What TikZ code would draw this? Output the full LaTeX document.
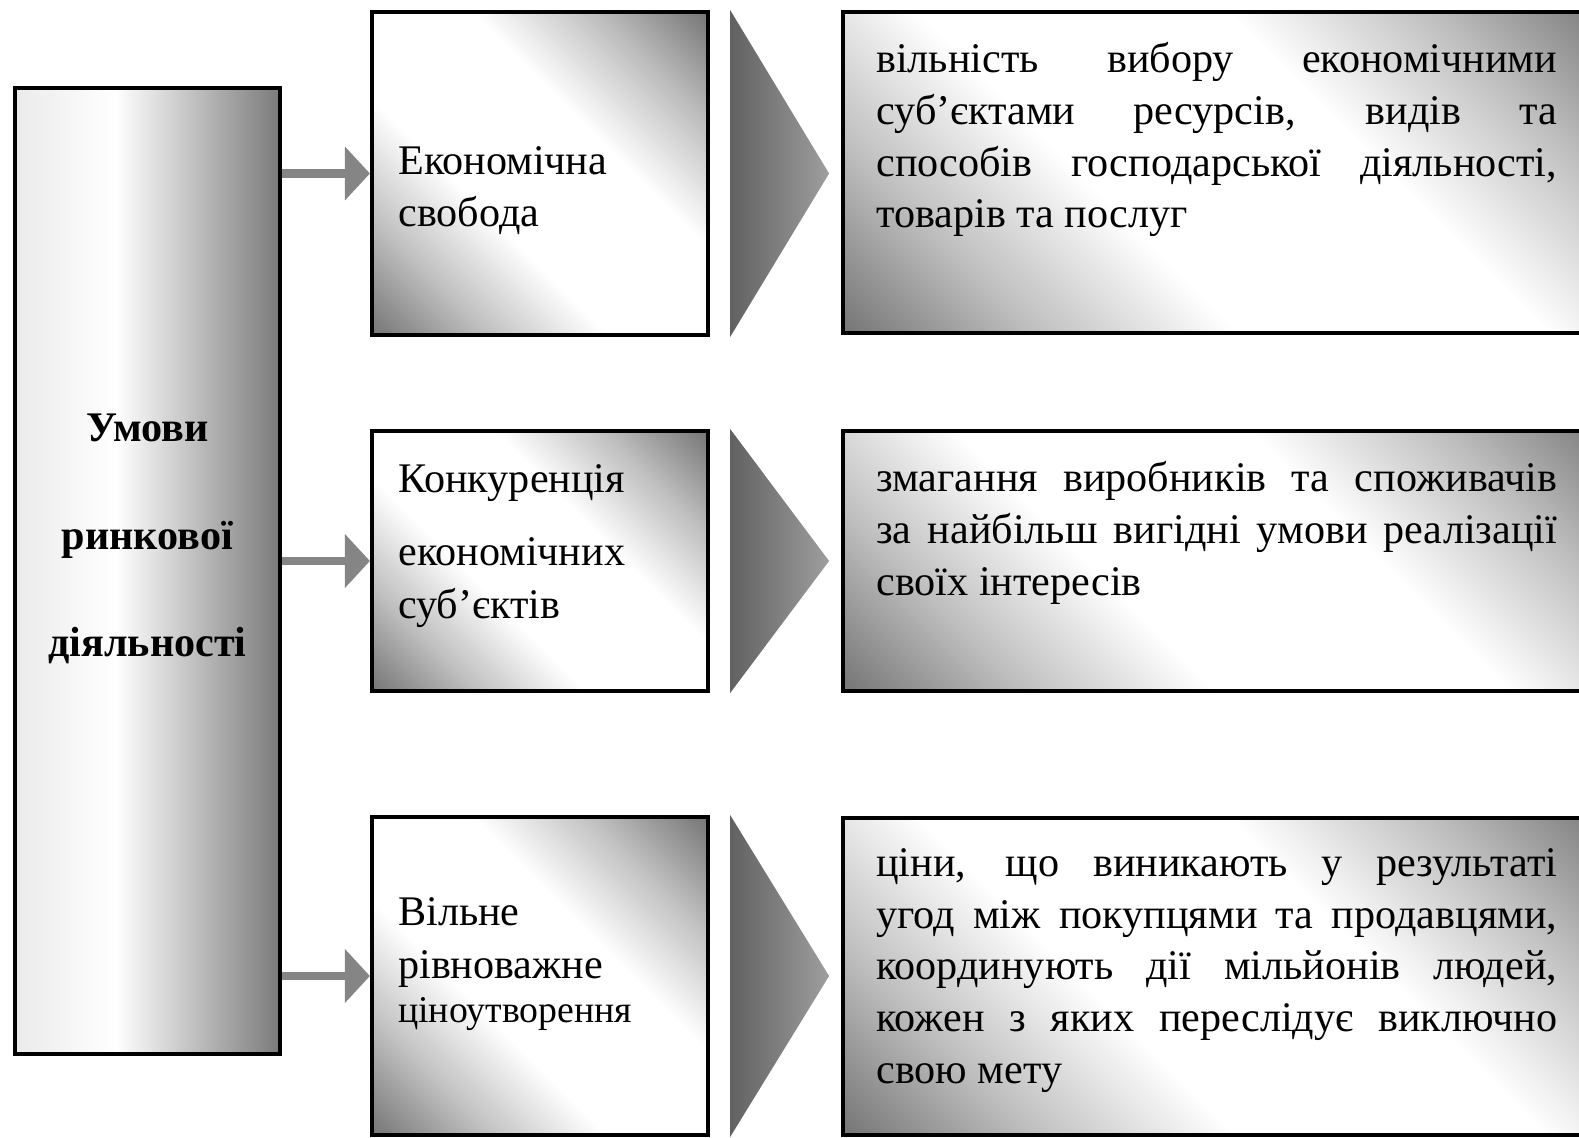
\documentclass[tikz,border=0pt]{standalone}
\usepackage{fontspec}
\setmainfont{Liberation Serif}
\usetikzlibrary{arrows.meta, positioning, calc}

\pgfdeclarehorizontalshading{sidebar}{100bp}{color(0bp)=(black!8); color(25bp)=(black!8); color(44bp)=(white); color(75bp)=(black!52); color(100bp)=(black!52)}
\pgfdeclarehorizontalshading{glare}{100bp}{color(0bp)=(black!60); color(15bp)=(black!53); color(27bp)=(black!25); color(40bp)=(white); color(60bp)=(white); color(73bp)=(black!25); color(85bp)=(black!53); color(100bp)=(black!60)}

\begin{document}
\begin{tikzpicture}[x=0.02cm, y=-0.02cm]
    \tikzstyle{base} = [rectangle, draw, line width=2.4pt, inner sep=0pt, shade]
    \tikzstyle{mainbox} = [base, shading=sidebar, minimum width=5.3cm, minimum height=19.32cm]
    \tikzstyle{factor} = [base, shading=glare, shading angle=45, minimum width=6.72cm]
    \tikzstyle{factortext} = [anchor=west, inner sep=0pt, text width=5.6cm, align=left, font=\fontsize{24}{30}\selectfont]
    \tikzstyle{descr} = [base, shading=glare, shading angle=45, minimum width=15.6cm]
    \tikzstyle{descrtext} = [anchor=north west, inner sep=0pt, text width=13.62cm, align=justify, font=\fontsize{24}{29.5}\selectfont]
    \tikzstyle{arrow} = [draw=black!48, line width=0.17cm, -{Triangle[width=1.05cm, length=0.5cm]}]
    \tikzstyle{pointer} = [left color=black!62, right color=black!38]

    \useasboundingbox (0,0) rectangle (1579,1138);
    \clip (0,0) rectangle (1579,1138);

    \node (cond) [mainbox] at (147.5,571) {};
    \node (condlbl) [align=center, font=\bfseries\fontsize{24}{61}\selectfont] at (147.5,539) {Умови\\ринкової\\діяльності};

    \node (econ) [factor, minimum height=6.46cm] at (540,173.5) {};
    \node (comp) [factor, minimum height=5.2cm] at (540,561) {};
    \node (price) [factor, minimum height=6.36cm] at (540,976) {};
    \node (econlbl) [factortext] at ($(econ.west)+(28,17)$) {Економічна\\свобода};
    \node (complbl) [factortext] at ($(comp.west)+(28,-15)$) {Конкуренція\\[0.4cm]економічних\\суб’єктів};
    \node (pricelbl) [factortext] at ($(price.west)+(28,-12)$) {Вільне\\рівноважне\\[-0.18cm]{\fontsize{21.5}{24}\selectfont ціноутворення}};

    \node (descr1) [descr, minimum height=6.42cm] at (1233,172.5) {};
    \node (descr2) [descr, minimum height=5.2cm] at (1233,561) {};
    \node (descr3) [descr, minimum height=6.34cm] at (1233,976.5) {};

    \node (descr1txt) [descrtext] at ($(descr1.north west)+(35,32)$) {вільність вибору економічними\linebreak суб’єктами ресурсів, видів та\linebreak способів господарської діяльності,\linebreak товарів та послуг};
    \node (descr2txt) [descrtext] at ($(descr2.north west)+(35,32)$) {змагання виробників та споживачів\linebreak за найбільш вигідні умови реалізації\linebreak своїх інтересів};
    \node (descr3txt) [descrtext] at ($(descr3.north west)+(35,32)$) {ціни, що виникають у результаті\linebreak угод між покупцями та продавцями,\linebreak координують дії мільйонів людей,\linebreak кожен з яких переслідує виключно\linebreak свою мету};

    % Arrows
    \draw [arrow] (cond.east |- econ.west) -- (econ.west);
    \draw [arrow] (cond.east |- comp.west) -- (comp.west);
    \draw [arrow] (cond.east |- price.west) -- (price.west);

    % Pointers
    \shade [pointer] ($(econ.north east)+(20,0)$) -- ($(econ.east)+(119,0)$) -- ($(econ.south east)+(20,0)$) -- cycle;
    \shade [pointer] ($(comp.north east)+(20,0)$) -- ($(comp.east)+(119,0)$) -- ($(comp.south east)+(20,0)$) -- cycle;
    \shade [pointer] ($(price.north east)+(20,0)$) -- ($(price.east)+(119,0)$) -- ($(price.south east)+(20,0)$) -- cycle;
\end{tikzpicture}
\end{document}
